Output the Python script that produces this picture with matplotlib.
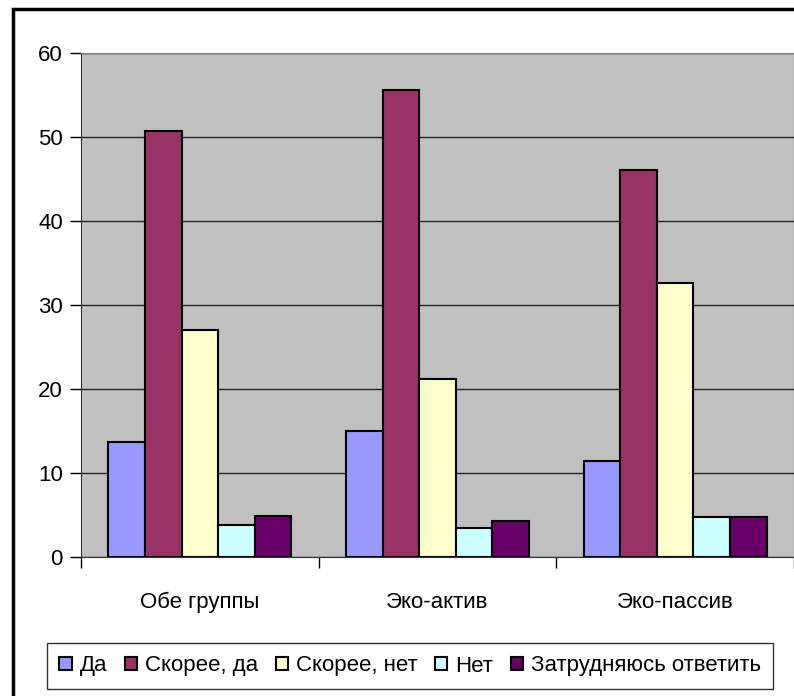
import numpy as np
import matplotlib; matplotlib.use("Agg")
import matplotlib.pyplot as plt
from matplotlib.patches import Rectangle

plt.rcParams["font.family"] = ["Liberation Sans Narrow", "Liberation Sans", "DejaVu Sans"]

groups = ["Обе группы", "Эко-актив", "Эко-пассив"]
series = ["Да", "Скорее, да", "Скорее, нет", "Нет", "Затрудняюсь ответить"]
da = [13.7, 15.0, 11.4]
skoree_da = [50.7, 55.6, 46.1]
skoree_net = [27.0, 21.2, 32.6]
net = [3.8, 3.5, 4.8]
zatr = [4.9, 4.3, 4.8]
colors = ["#9999FF", "#993366", "#FFFFCC", "#CCFFFF", "#660066"]

fig = plt.figure(figsize=(7.94, 6.96), dpi=100)
ax = fig.add_axes([81/794, 1-557/696, 713/794, 504/696])
ax.set_facecolor("#C0C0C0")

x = np.arange(len(groups))
w = 0.154
for i, (vals, c, name) in enumerate(zip([da, skoree_da, skoree_net, net, zatr], colors, series)):
    ax.bar(x + (i-2)*w, vals, w, color=c, edgecolor="black", lw=1.5, label=name, zorder=3)

ax.set_xlim(-0.5, 2.5)
ax.set_ylim(0, 60)
ax.set_yticks(range(0, 61, 10))
ax.yaxis.grid(True, color="#222222", lw=1, zorder=0)
ax.tick_params(axis="y", labelsize=16, length=8, width=1, pad=5)
ax.set_xticks([-0.5, 0.5, 1.5, 2.5])
ax.set_xticklabels([])
ax.set_xticks(x, minor=True)
ax.set_xticklabels(groups, minor=True, fontsize=16)
ax.tick_params(axis="x", which="major", length=8, width=1)
ax.tick_params(axis="x", which="minor", length=0, pad=25)
for s in ["top", "right"]:
    ax.spines[s].set_color("#808080")
for s in ["left", "bottom"]:
    ax.spines[s].set_color("#333333")

fig.legend(loc="center", bbox_to_anchor=(410/794, 1-666/696), ncol=5, fontsize=16,
           handlelength=0.55, handleheight=0.55, handletextpad=0.35, columnspacing=0.8,
           frameon=True, fancybox=False, edgecolor="black", borderpad=0.55)

fig.patches.append(Rectangle((13/794, -0.1), 1.1, 1-9/696+0.1, transform=fig.transFigure,
                             fill=False, edgecolor="black", lw=2.5))
fig.savefig("out.png", dpi=100)
